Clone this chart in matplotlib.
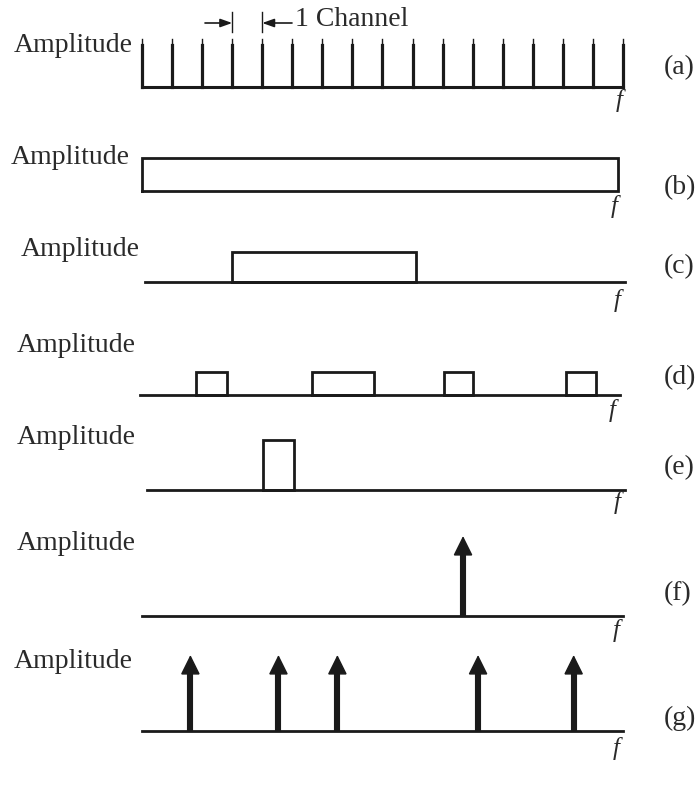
import matplotlib
matplotlib.use("Agg")
import matplotlib.pyplot as plt

# channel positions (1 unit = one channel spacing)
comb_a = [0, 1, 2, 3, 4, 5, 6, 7, 8, 9, 10, 11, 12, 13, 14, 15, 16]
band_b = [(0.0, 15.85)]
band_c = [(3.0, 9.1)]
bands_d = [(1.8, 2.83), (5.65, 7.72), (10.05, 11.0), (14.1, 15.1)]
band_e = [(4.03, 5.06)]
tones_f = [10.68]
tones_g = [1.61, 4.54, 6.50, 11.18, 14.36]
panel_labels = ["(a)", "(b)", "(c)", "(d)", "(e)", "(f)", "(g)"]

INK = "#1a1a1a"
TXT = "#2a2a2a"
FONT = "Liberation Serif"
CH0, CHW = 142, 30.06  # pixel of channel 0, pixels per channel


def ch(px):
    return (px - CH0) / CHW


fig = plt.figure(figsize=(6.99, 7.87), dpi=100)
ax = fig.add_axes([0, 0, 1, 1])
ax.set_xlim(ch(0), ch(699))
ax.set_ylim(787, 0)
ax.axis("off")


def label(txt, xpx, ypx, size=20, **kw):
    ax.text(ch(xpx), ypx, txt, fontsize=size, family=FONT,
            color=TXT, va="center", **kw)


def freq(xpx, ypx):
    ax.text(ch(xpx), ypx, "f", fontsize=18, family=FONT, style="italic",
            color=TXT, ha="center", va="center")


def boxes(bands, base, height):
    for lo, hi in bands:
        ax.plot([lo, lo, hi, hi, lo], [base, base - height, base - height, base, base],
                color=INK, lw=2.0, solid_joinstyle="miter")


def tones(xs, base, tip):
    for x in xs:
        ax.plot([x, x], [base, tip + 14], color=INK, lw=4.4, solid_capstyle="butt")
        ax.annotate("", xy=(x, tip), xytext=(x, tip + 16),
                    arrowprops=dict(arrowstyle="-|>,head_length=1.25,head_width=0.62",
                                    lw=1.0, color=INK, shrinkA=0, shrinkB=0,
                                    joinstyle="miter"))


# (a) channel comb
base = 87
ax.plot([comb_a[0], comb_a[-1]], [base, base], color=INK, lw=2.2)
for c in comb_a:
    ax.plot([c, c], [39, base], color=INK, lw=1.0)
    ax.plot([c, c], [45, base], color=INK, lw=2.3)
label("Amplitude", 14, 45)
ax.plot([3, 3], [12, 32], color=INK, lw=1.0)
ax.plot([4, 4], [12, 32], color=INK, lw=1.0)
ax.annotate("", xy=(3, 23), xytext=(ch(205), 23),
            arrowprops=dict(arrowstyle="-|>,head_length=0.7,head_width=0.25",
                            lw=1.2, color=INK, shrinkA=0, shrinkB=0))
ax.annotate("", xy=(4, 23), xytext=(ch(292), 23),
            arrowprops=dict(arrowstyle="-|>,head_length=0.7,head_width=0.25",
                            lw=1.2, color=INK, shrinkA=0, shrinkB=0))
label("1 Channel", 295, 20)
freq(619, 101)

# (b) whole band
boxes(band_b, 191, 33)
label("Amplitude", 11, 158)
freq(614, 207)

# (c) single wide band
ax.plot([ch(145), ch(625)], [282, 282], color=INK, lw=2.0)
boxes(band_c, 282, 30)
label("Amplitude", 21, 250)
freq(617, 300)

# (d) several bands
ax.plot([ch(140), ch(620)], [395, 395], color=INK, lw=2.0)
boxes(bands_d, 395, 23)
label("Amplitude", 17, 345)
freq(612, 410)

# (e) single narrow band
ax.plot([ch(147), ch(625)], [490, 490], color=INK, lw=2.0)
boxes(band_e, 490, 50)
label("Amplitude", 17, 438)
freq(617, 503)

# (f) single tone
ax.plot([ch(142), ch(623)], [616, 616], color=INK, lw=2.0)
tones(tones_f, 616, 536)
label("Amplitude", 17, 543)
freq(616, 631)

# (g) multiple tones
ax.plot([ch(142), ch(623)], [731, 731], color=INK, lw=2.0)
tones(tones_g, 731, 655)
label("Amplitude", 14, 662)
freq(616, 748)

for lab, y in zip(panel_labels, [68, 188, 267, 378, 468, 594, 718]):
    label(lab, 664, y)

fig.savefig("out.png", dpi=100)
